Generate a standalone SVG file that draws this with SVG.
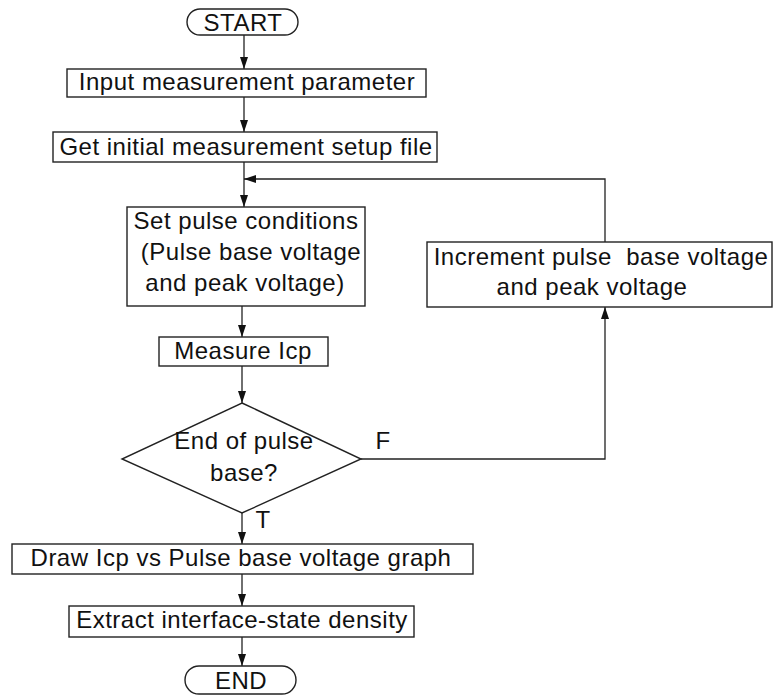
<svg xmlns="http://www.w3.org/2000/svg" width="776" height="696" viewBox="0 0 776 696">
<style>
.box{fill:#fff;stroke:#222;stroke-width:1.4}
.ln{fill:none;stroke:#222;stroke-width:1.3}
text{font-family:"Liberation Sans",Arial,sans-serif;font-size:24px;letter-spacing:0.5px;fill:#111;text-anchor:middle}
</style>
<defs>
<marker id="ah" viewBox="0 0 12 8" refX="12" refY="4" markerWidth="12" markerHeight="8" markerUnits="userSpaceOnUse" orient="auto">
<path d="M0,0 L12,4 L0,8 Z" fill="#111"/>
</marker>
</defs>
<rect width="776" height="696" fill="#fff"/>
<g id="connectors">
<line class="ln" x1="244" y1="35" x2="244" y2="69" marker-end="url(#ah)"/>
<line class="ln" x1="244" y1="97" x2="244" y2="132" marker-end="url(#ah)"/>
<line class="ln" x1="244" y1="162" x2="244" y2="207" marker-end="url(#ah)"/>
<polyline class="ln" points="605,242 605,179 244,179" marker-end="url(#ah)"/>
<line class="ln" x1="242" y1="306" x2="242" y2="337" marker-end="url(#ah)"/>
<line class="ln" x1="242" y1="366" x2="242" y2="403" marker-end="url(#ah)"/>
<polyline class="ln" points="361,459 605,459 605,307" marker-end="url(#ah)"/>
<line class="ln" x1="242" y1="513" x2="242" y2="544" marker-end="url(#ah)"/>
<line class="ln" x1="242" y1="574" x2="242" y2="606" marker-end="url(#ah)"/>
<line class="ln" x1="242" y1="637" x2="242" y2="666" marker-end="url(#ah)"/>
<text x="383" y="449">F</text>
<text x="263" y="528">T</text>
</g>
<g id="start">
<rect class="box" x="187" y="9" width="111" height="26" rx="13"/>
<text x="243" y="31">START</text>
</g>
<g id="input">
<rect class="box" x="67" y="69" width="359" height="28"/>
<text x="247" y="90">Input measurement parameter</text>
</g>
<g id="getfile">
<rect class="box" x="53" y="132" width="384" height="30"/>
<text x="246" y="155">Get initial measurement setup file</text>
</g>
<g id="setpulse">
<rect class="box" x="127" y="207" width="238" height="99"/>
<text x="246" y="229">Set pulse conditions</text>
<text x="251" y="260">(Pulse base voltage</text>
<text x="245" y="291">and peak voltage)</text>
</g>
<g id="increment">
<rect class="box" x="427" y="242" width="345" height="65"/>
<text x="601" y="265" xml:space="preserve" style="white-space:pre">Increment pulse  base voltage</text>
<text x="592" y="295">and peak voltage</text>
</g>
<g id="measure">
<rect class="box" x="159" y="337" width="169" height="29"/>
<text x="243" y="359">Measure Icp</text>
</g>
<g id="decision">
<polygon class="box" points="242,403 361,459 242,513 122,459"/>
<text x="244" y="449">End of pulse</text>
<text x="244" y="481">base?</text>
</g>
<g id="draw">
<rect class="box" x="12" y="544" width="461" height="30"/>
<text x="241" y="566">Draw Icp vs Pulse base voltage graph</text>
</g>
<g id="extract">
<rect class="box" x="69" y="606" width="345" height="31"/>
<text x="242" y="628">Extract interface-state density</text>
</g>
<g id="end">
<rect class="box" x="185" y="666" width="111" height="28" rx="14"/>
<text x="241" y="689">END</text>
</g>
</svg>
